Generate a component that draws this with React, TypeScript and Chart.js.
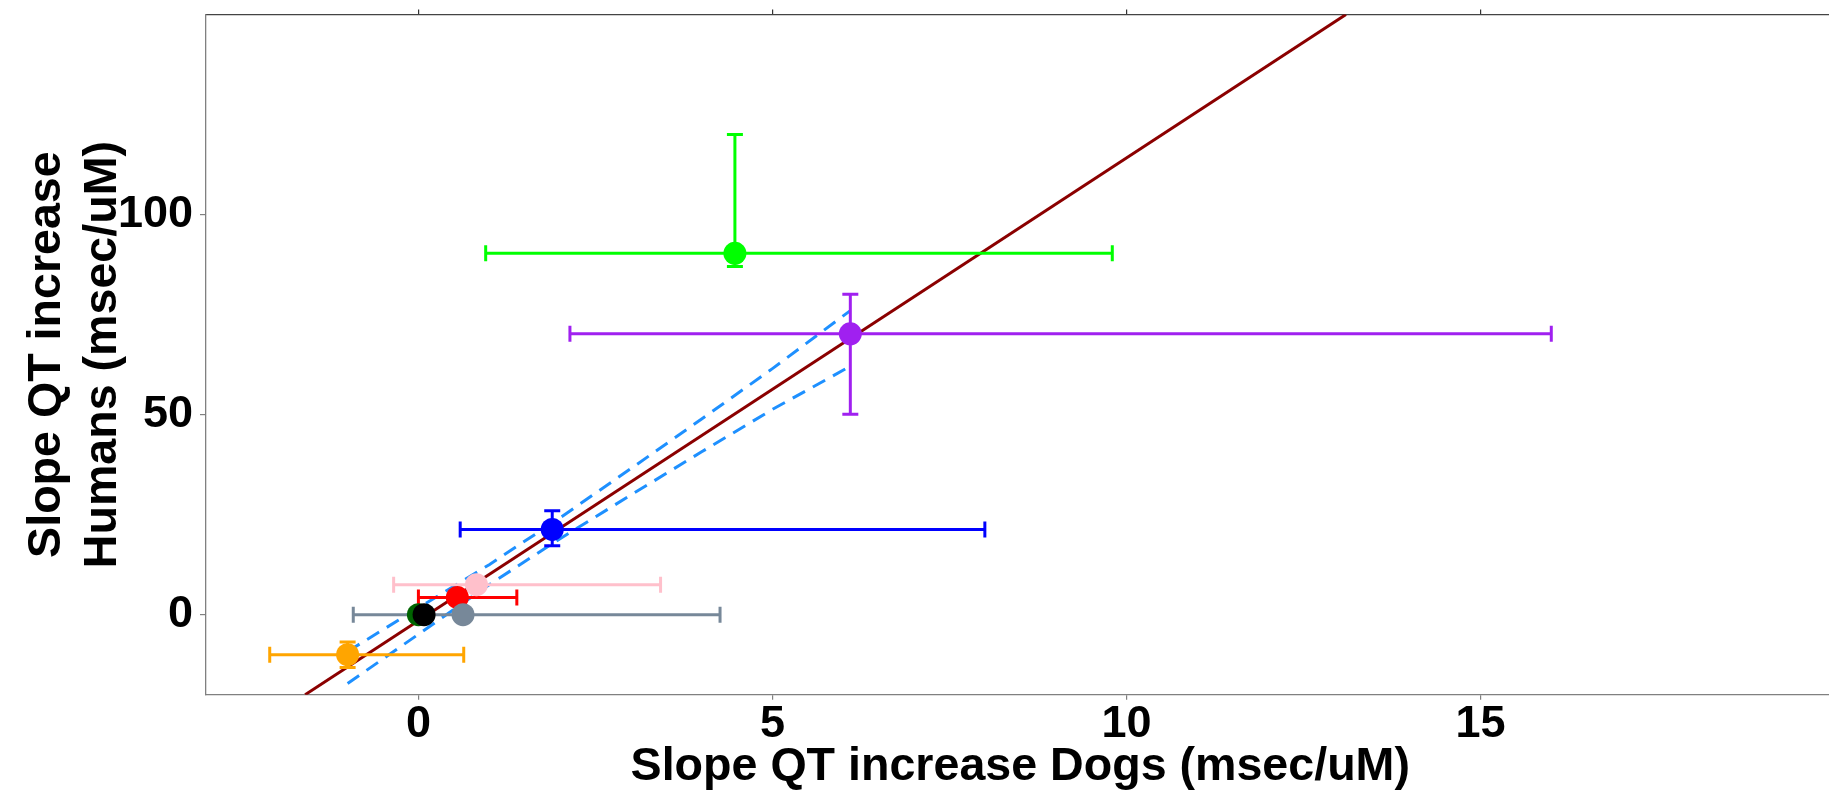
import React, { useEffect, useRef } from "react";
import { Chart, registerables } from "chart.js";

Chart.register(...registerables);

// ---- data ----
const pointColors = ["#006400", "#000000", "#FFA500", "#FFC0CB", "#FF0000", "#778899", "#0000FF", "#00FF00", "#A020F0"];
const dogSlope = [0.0, 0.08, -1.0, 0.82, 0.55, 0.63, 1.89, 4.47, 6.1];
const humanSlope = [0, 0, -10, 7.5, 4.3, 0, 21.3, 90.3, 70.2];
const dogLow: (number | null)[] = [null, null, -2.1, -0.35, 0.0, -0.92, 0.59, 0.95, 2.14];
const dogHigh: (number | null)[] = [null, null, 0.64, 3.42, 1.39, 4.26, 8.0, 9.8, 16.0];
const humanLow: (number | null)[] = [null, null, -13.2, null, null, null, 17.2, 87.0, 50.1];
const humanHigh: (number | null)[] = [null, null, -6.8, null, null, null, 26.0, 120.0, 80.1];

const fitX = [-1.6, 13.1];
const fitY = [-20, 150];

const bandX = [-1, 0, 1, 2, 3, 4, 5, 6.1];
const bandUpper = [-9.2, 1.7, 12.5, 24.2, 36.5, 48.9, 61.5, 76.0];
const bandLower = [-17.2, -4.9, 7.5, 19.0, 29.9, 40.7, 51.3, 62.1];

const xTicks = [0, 5, 10, 15];
const yTicks = [0, 50, 100];
const xRange = [-3, 20];
const yRange = [-20, 150];

const xTitle = "Slope QT increase Dogs (msec/uM)";
const yTitle = ["Slope QT increase", "Humans (msec/uM)"];

const FONT = "'Liberation Sans', Arial, Helvetica, sans-serif";

// the original panel runs a little past the right edge of the picture
const CANVAS_W = 1846;
const CANVAS_H = 795;

const errorBarPlugin = {
  id: "errorBars",
  beforeDatasetDraw(chart: any, args: any) {
    if (args.index !== 0) return;
    const { ctx } = chart;
    const xs = chart.scales.x;
    const ys = chart.scales.y;
    const cap = 8;
    ctx.save();
    ctx.lineWidth = 3;
    ctx.lineCap = "butt";
    for (let i = 0; i < dogSlope.length; i++) {
      ctx.strokeStyle = pointColors[i];
      const px = xs.getPixelForValue(dogSlope[i]);
      const py = ys.getPixelForValue(humanSlope[i]);
      const lo = dogLow[i];
      const hi = dogHigh[i];
      if (lo != null && hi != null) {
        const a = xs.getPixelForValue(lo);
        const b = xs.getPixelForValue(hi);
        ctx.beginPath();
        ctx.moveTo(a, py);
        ctx.lineTo(b, py);
        ctx.moveTo(a, py - cap);
        ctx.lineTo(a, py + cap);
        ctx.moveTo(b, py - cap);
        ctx.lineTo(b, py + cap);
        ctx.stroke();
      }
      const ylo = humanLow[i];
      const yhi = humanHigh[i];
      if (ylo != null && yhi != null) {
        const a = ys.getPixelForValue(ylo);
        const b = ys.getPixelForValue(yhi);
        ctx.beginPath();
        ctx.moveTo(px, a);
        ctx.lineTo(px, b);
        ctx.moveTo(px - cap, a);
        ctx.lineTo(px + cap, a);
        ctx.moveTo(px - cap, b);
        ctx.lineTo(px + cap, b);
        ctx.stroke();
      }
    }
    ctx.restore();
  },
};

export default function App() {
  const ref = useRef<HTMLCanvasElement | null>(null);

  useEffect(() => {
    document.body.style.margin = "0";
    const canvas = ref.current;
    if (!canvas) return;

    const points = dogSlope.map((x, i) => ({ x, y: humanSlope[i] }));
    const fit = fitX.map((x, i) => ({ x, y: fitY[i] }));
    const upper = bandX.map((x, i) => ({ x, y: bandUpper[i] }));
    const lower = bandX.map((x, i) => ({ x, y: bandLower[i] }));

    const tickFont = { family: FONT, size: 45, weight: "bold" as const, lineHeight: 1 };
    const titleFont = { family: FONT, size: 46.6, weight: "bold" as const, lineHeight: 1.2 };

    const chart = new Chart(canvas, {
      type: "scatter",
      data: {
        datasets: [
          {
            data: points,
            backgroundColor: pointColors,
            borderWidth: 0,
            pointRadius: 11.5,
            pointHoverRadius: 11.5,
            showLine: false,
          },
          {
            data: fit,
            showLine: true,
            borderColor: "#8B0000",
            borderWidth: 3,
            pointRadius: 0,
            fill: false,
          },
          {
            data: upper,
            showLine: true,
            borderColor: "#1E90FF",
            borderWidth: 3,
            borderDash: [14, 9],
            pointRadius: 0,
            fill: false,
          },
          {
            data: lower,
            showLine: true,
            borderColor: "#1E90FF",
            borderWidth: 3,
            borderDash: [14, 9],
            pointRadius: 0,
            fill: false,
          },
        ],
      },
      options: {
        responsive: false,
        maintainAspectRatio: false,
        animation: false,
        layout: { padding: 0 },
        plugins: {
          legend: { display: false },
          tooltip: { enabled: false },
        },
        scales: {
          x: {
            type: "linear",
            position: "bottom",
            min: xRange[0],
            max: xRange[1],
            afterBuildTicks: (s: any) => {
              s.ticks = xTicks.map((v) => ({ value: v }));
            },
            afterFit: (s: any) => {
              s.height = 100.3;
              s.paddingLeft = 0;
              s.paddingRight = 0;
            },
            grid: { display: true, drawOnChartArea: false, drawTicks: true, tickLength: 5, color: "#808080", lineWidth: 1.2 },
            border: { display: true, color: "#808080", width: 1.3 },
            ticks: { font: tickFont, color: "#000", padding: 2, maxRotation: 0, autoSkip: false },
            title: { display: true, text: xTitle, font: titleFont, color: "#000", padding: { top: 0, bottom: 0 } },
          },
          x2: {
            type: "linear",
            axis: "x",
            position: "top",
            min: xRange[0],
            max: xRange[1],
            afterBuildTicks: (s: any) => {
              s.ticks = xTicks.map((v) => ({ value: v }));
            },
            afterFit: (s: any) => {
              s.height = 14.5;
              s.paddingLeft = 0;
              s.paddingRight = 0;
            },
            grid: { display: true, drawOnChartArea: false, drawTicks: true, tickLength: 5, color: "#333", lineWidth: 1.2 },
            border: { display: true, color: "#444", width: 1.3 },
            ticks: { display: false },
          },
          y: {
            type: "linear",
            position: "left",
            min: yRange[0],
            max: yRange[1],
            afterBuildTicks: (s: any) => {
              s.ticks = yTicks.map((v) => ({ value: v }));
            },
            afterFit: (s: any) => {
              s.width = 206;
              s.paddingTop = 0;
              s.paddingBottom = 0;
            },
            grid: { display: true, drawOnChartArea: false, drawTicks: true, tickLength: 6, color: "#808080", lineWidth: 1.2 },
            border: { display: true, color: "#808080", width: 1.3 },
            ticks: { font: tickFont, color: "#000", padding: 7 },
            title: { display: true, text: yTitle, font: titleFont, color: "#000", padding: { top: 19, bottom: 0 } },
          },
        },
      },
      plugins: [errorBarPlugin],
    } as any);

    return () => {
      chart.destroy();
    };
  }, []);

  return (
    <div style={{ width: 1829, height: 795, overflow: "hidden" }}>
      <canvas
        ref={ref}
        width={CANVAS_W}
        height={CANVAS_H}
        style={{ display: "block", width: CANVAS_W, height: CANVAS_H }}
      />
    </div>
  );
}
